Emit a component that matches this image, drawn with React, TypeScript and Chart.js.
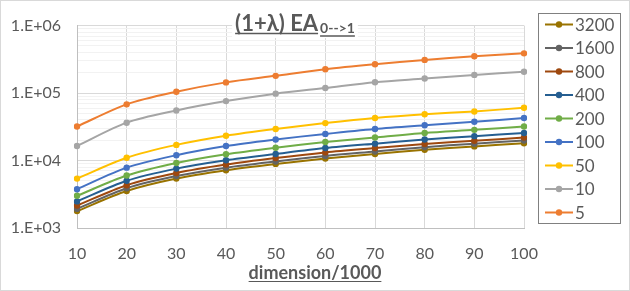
import React, { useEffect, useRef } from "react";
import { Chart, registerables } from "chart.js";

Chart.register(...registerables);

const categories = ["10", "20", "30", "40", "50", "60", "70", "80", "90", "100"];

const s3200 = [1780, 3530, 5400, 7190, 8910, 10700, 12500, 14400, 16200, 18000];
const s1600 = [1920, 3880, 5880, 7840, 9690, 11700, 13600, 15800, 17800, 19800];
const s800 = [2150, 4310, 6530, 8720, 10900, 13200, 15300, 17600, 19600, 22000];
const s400 = [2480, 5010, 7590, 10100, 12500, 15300, 17800, 20500, 23000, 25600];
const s200 = [3000, 6000, 9200, 12400, 15500, 18800, 22000, 25600, 28500, 32000];
const s100 = [3760, 7840, 12000, 16400, 20500, 24800, 29400, 33400, 37600, 42700];
const s50 = [5400, 11000, 17060, 23300, 29400, 35900, 42700, 48500, 53400, 60700];
const s10 = [16400, 36400, 55200, 76000, 98000, 119000, 145000, 164000, 186000, 207000];
const s5 = [32000, 68000, 104500, 144000, 180000, 225000, 267000, 310000, 352000, 388000];

const seriesLabels = ["3200", "1600", "800", "400", "200", "100", "50", "10", "5"];
const seriesValues = [s3200, s1600, s800, s400, s200, s100, s50, s10, s5];
const seriesColors = ["#997300", "#636363", "#9E480E", "#255E91", "#70AD47", "#4472C4", "#FFC000", "#A5A5A5", "#ED7D31"];

const yMajorTicks = [1000, 10000, 100000, 1000000];
const yTickLabels = ["1.E+03", "1.E+04", "1.E+05", "1.E+06"];
const yMinorMultipliers = [2, 3, 4, 5, 6, 7, 8, 9];

const titleMain = "(1+λ) EA";
const titleSub = "0-->1";
const xTitle = "dimension/1000";

const FONT = "Lato, 'Liberation Sans', sans-serif";

const decorPlugin = {
  id: "decor",
  afterDraw(chart: any) {
    const ctx = chart.ctx as CanvasRenderingContext2D;
    ctx.save();
    // outer border
    ctx.strokeStyle = "#D9D9D9";
    ctx.lineWidth = 1;
    ctx.strokeRect(0.5, 0.5, chart.width - 1, chart.height - 1);

    // title
    ctx.font = `bold 22px ${FONT}`;
    const mainW = ctx.measureText(titleMain).width;
    ctx.font = `bold 14px ${FONT}`;
    const subW = ctx.measureText(titleSub).width;
    const total = mainW + 2 + subW;
    const cx = 295;
    const tx = cx - total / 2;
    ctx.fillStyle = "#FFFFFF";
    ctx.fillRect(tx - 3, 10, total + 6, 28);
    ctx.fillStyle = "#595959";
    ctx.strokeStyle = "#595959";
    ctx.textBaseline = "alphabetic";
    ctx.textAlign = "left";
    ctx.font = `bold 22px ${FONT}`;
    ctx.fillText(titleMain, tx, 31);
    ctx.lineWidth = 1.5;
    ctx.beginPath();
    ctx.moveTo(tx, 33.5);
    ctx.lineTo(tx + mainW, 33.5);
    ctx.stroke();
    ctx.font = `bold 14px ${FONT}`;
    const sx = tx + mainW + 2;
    ctx.fillText(titleSub, sx, 33);
    ctx.beginPath();
    ctx.moveTo(sx, 36);
    ctx.lineTo(sx + subW, 36);
    ctx.stroke();

    // x axis title
    ctx.font = `bold 18px ${FONT}`;
    const xw = ctx.measureText(xTitle).width;
    const xx = 315 - xw / 2;
    ctx.fillText(xTitle, xx, 279);
    ctx.lineWidth = 1.2;
    ctx.beginPath();
    ctx.moveTo(xx, 281.5);
    ctx.lineTo(xx + xw, 281.5);
    ctx.stroke();

    // legend
    ctx.strokeStyle = "#808080";
    ctx.lineWidth = 1;
    ctx.strokeRect(538.5, 13.5, 82, 210);
    ctx.font = `17px ${FONT}`;
    ctx.textBaseline = "middle";
    seriesLabels.forEach((lab, i) => {
      const y = 24.5 + i * 23.5;
      ctx.strokeStyle = seriesColors[i];
      ctx.lineWidth = 2;
      ctx.beginPath();
      ctx.moveTo(545, y);
      ctx.lineTo(573, y);
      ctx.stroke();
      ctx.fillStyle = seriesColors[i];
      ctx.beginPath();
      ctx.arc(559, y, 3.2, 0, Math.PI * 2);
      ctx.fill();
      ctx.fillStyle = "#595959";
      ctx.fillText(lab, 575, y + 1);
    });
    ctx.restore();
  },
};

export default function App() {
  const ref = useRef<HTMLCanvasElement>(null);
  useEffect(() => {
    document.body.style.margin = "0";
    const canvas = ref.current!;
    const datasets = seriesLabels
      .map((lab, i) => ({
        label: lab,
        data: seriesValues[i],
        borderColor: seriesColors[i],
        backgroundColor: seriesColors[i],
        borderWidth: 2,
        pointRadius: 3.2,
        pointBorderWidth: 0,
        pointHoverRadius: 3.2,
        tension: 0.3,
        fill: false,
      }))
      .reverse();
    const chart = new Chart(canvas, {
      type: "line",
      data: { labels: categories, datasets },
      options: {
        animation: false,
        responsive: false,
        layout: { padding: { top: 12, right: 106, left: 0, bottom: 0 } },
        plugins: { legend: { display: false }, title: { display: false }, tooltip: { enabled: false } },
        scales: {
          x: {
            type: "category",
            offset: false,
            grid: { color: "#D9D9D9", drawTicks: false },
            border: { color: "#BFBFBF", width: 1 },
            ticks: { color: "#595959", font: { family: FONT, size: 16 }, padding: 16, maxRotation: 0, autoSkip: false },
            afterFit(scale: any) {
              scale.height = 63;
            },
          },
          y: {
            type: "logarithmic",
            min: 1000,
            max: 1000000,
            grid: {
              drawTicks: false,
              color: (c: any) => {
                const v = c.tick ? c.tick.value : 0;
                return yMajorTicks.includes(v) ? "#D9D9D9" : "#F2F2F2";
              },
            },
            border: { color: "#BFBFBF", width: 1 },
            ticks: {
              color: "#595959",
              font: { family: FONT, size: 16 },
              padding: 16,
              autoSkip: false,
              callback: (v: any) => {
                const idx = yMajorTicks.indexOf(Number(v));
                return idx >= 0 ? yTickLabels[idx] : "";
              },
            },
            afterBuildTicks(scale: any) {
              const ticks: any[] = [];
              yMajorTicks.forEach((m, i) => {
                ticks.push({ value: m });
                if (i < yMajorTicks.length - 1) {
                  yMinorMultipliers.forEach((k) => ticks.push({ value: m * k }));
                }
              });
              scale.ticks = ticks;
            },
            afterFit(scale: any) {
              scale.width = 77;
            },
          },
        },
      },
      plugins: [decorPlugin],
    } as any);
    return () => chart.destroy();
  }, []);
  return <canvas ref={ref} width={630} height={291} style={{ display: "block" }} />;
}
